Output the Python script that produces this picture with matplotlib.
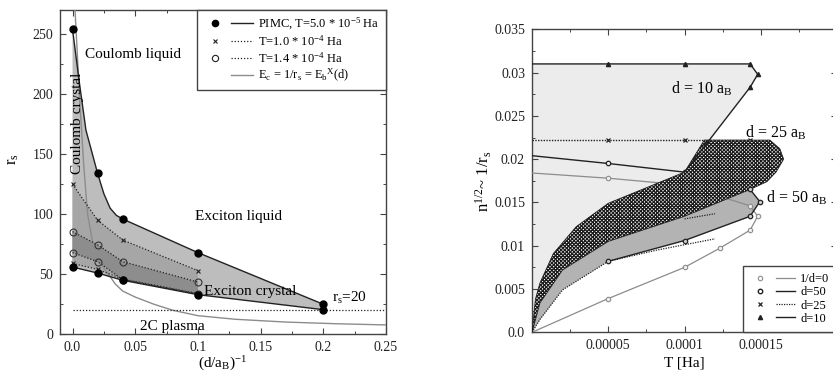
import numpy as np
import matplotlib
matplotlib.use("Agg")
import matplotlib.pyplot as plt
from matplotlib.lines import Line2D
from matplotlib.legend_handler import HandlerTuple
from matplotlib.ticker import FixedLocator, FixedFormatter, MultipleLocator

plt.rcParams["font.family"] = ["Liberation Serif", "DejaVu Serif"]
plt.rcParams["mathtext.fontset"] = "custom"
plt.rcParams["mathtext.rm"] = "Liberation Serif"
plt.rcParams["mathtext.it"] = "Liberation Serif:italic"
plt.rcParams["mathtext.default"] = "regular"
plt.rcParams["hatch.linewidth"] = 0.9

# ---------------- left panel: r_s versus inverse layer separation ----------------
inv_d = [0.0, 0.02, 0.04, 0.1, 0.2]
pimc_upper = [254, 134, 96, 68, 25]
pimc_lower = [56, 51, 45, 33, 20.5]
# shape of the upper PIMC boundary between the simulation points
pimc_curve_x = [0.0, 0.005, 0.0107, 0.02, 0.025, 0.03, 0.035, 0.04, 0.1, 0.2]
pimc_curve_y = [254, 213, 170, 134, 117, 105, 99, 96, 68, 25]

t1_x = [0.0, 0.02, 0.04, 0.1]
t1_upper = [125, 95, 78.5, 53]
t1_lower = [59, 54, 46, 34]

t2_x = [0.0, 0.02, 0.04, 0.1]
t2_upper = [85.5, 74.5, 60.5, 43.5]
t2_lower = [68, 60.5, 45.5, 33.5]

ec_x = [0.002, 0.006, 0.009, 0.012, 0.016, 0.02, 0.025, 0.03, 0.034, 0.04,
        0.05, 0.065, 0.08, 0.1, 0.13, 0.17, 0.21, 0.25]
ec_y = [270, 190, 140, 100, 77, 64, 55, 48, 42, 36,
        31, 25, 20, 15.5, 12.5, 10.2, 8.8, 7.8]

rs_line = 20

left_xticks = [0.0, 0.05, 0.1, 0.15, 0.2, 0.25]
left_xticklabels = ["0.0", "0.05", "0.1", "0.15", "0.2", "0.25"]
left_yticks = [0, 50, 100, 150, 200, 250]

# ---------------- right panel: density versus temperature ----------------
d10_top_T = [0.0, 5e-5, 1e-4, 1.43e-4, 1.48e-4, 1.43e-4, 1e-4]
d10_top_n = [0.031, 0.031, 0.031, 0.031, 0.0298, 0.0283, 0.0185]
d10_low_T = [1e-4, 5e-5, 2.9e-5, 1.4e-5, 5.2e-6, 2.2e-6, 0.0]
d10_low_n = [0.0185, 0.0149, 0.0122, 0.0091, 0.0057, 0.0038, 0.0]

d25_top_T = [0.0, 5e-5, 1e-4, 1.43e-4]
d25_top_n = [0.0222, 0.0222, 0.0222, 0.0222]
# outer edge of the d = 25 region to the right of the d = 10 boundary
d25_edge_T = [1.13e-4, 1.56e-4, 1.625e-4, 1.65e-4, 1.6e-4, 1.54e-4, 1.43e-4,
              1e-4, 5e-5, 2e-5, 5.2e-6, 0.0]
d25_edge_n = [0.0222, 0.0222, 0.0212, 0.0200, 0.0185, 0.0174, 0.0165,
              0.0134, 0.0105, 0.0072, 0.0034, 0.0]
d25_low_T = [0.0, 5.2e-6, 2e-5, 5e-5, 8.2e-5, 1.2e-4]
d25_low_n = [0.0, 0.0015, 0.0049, 0.0082, 0.0095, 0.0108]
d25_mid_T = [1.0e-4, 1.2e-4]
d25_mid_n = [0.0131, 0.0137]

d50_top_T = [0.0, 5e-5, 1e-4, 1.43e-4]
d50_top_n = [0.0204, 0.0195, 0.0185, 0.0165]
d50_low_T = [0.0, 5.2e-6, 2e-5, 5e-5, 1e-4, 1.43e-4, 1.494e-4, 1.43e-4]
d50_low_n = [0.0, 0.0014, 0.0049, 0.0082, 0.0106, 0.0134, 0.0151, 0.0165]

d0_T = [0.0, 5e-5, 1e-4, 1.43e-4, 1.48e-4, 1.43e-4, 1.23e-4, 1e-4, 5e-5, 0.0]
d0_n = [0.0184, 0.0178, 0.0170, 0.0146, 0.0134, 0.0118, 0.0097, 0.0075, 0.0039, 0.0]

right_xticks = [5e-5, 1e-4, 1.5e-4]
right_xticklabels = ["0.00005", "0.0001", "0.00015"]
right_yticks = [0.0, 0.005, 0.01, 0.015, 0.02, 0.025, 0.03, 0.035]
right_yticklabels = ["0.0", "0.005", "0.01", "0.015", "0.02", "0.025", "0.03", "0.035"]

# colours
LIGHT = "#bdbdbd"
MID = "#a6a6a6"
DARK = "#8d8d8d"
LINE = "#222222"
GREY_LINE = "#8c8c8c"
SPINE = "#444444"

fig = plt.figure(figsize=(8.33, 3.78), dpi=100)
axL = fig.add_axes([0.072, 0.1156, 0.3914, 0.858])
axR = fig.add_axes([0.6387, 0.1209, 0.3661, 0.8016])


def style_axes(ax):
    for s in ax.spines.values():
        s.set_color(SPINE)
        s.set_linewidth(1.0)
    ax.tick_params(which="both", direction="in", top=True, right=True,
                   colors=SPINE, labelcolor="#222222", labelsize=10)
    ax.tick_params(which="major", length=4.5, width=0.8, pad=5)
    ax.tick_params(which="minor", length=2.5, width=0.7)


# ----- left panel -----
ax = axL
ax.fill(pimc_curve_x + inv_d[::-1], pimc_curve_y + pimc_lower[::-1],
        color=LIGHT, lw=0, zorder=1)
ax.fill(t1_x + t1_x[::-1], t1_upper + t1_lower[::-1], color=MID, lw=0, zorder=2)
ax.fill(t2_x + t2_x[::-1], t2_upper + t2_lower[::-1], color=DARK, lw=0, zorder=3)

ax.plot(pimc_curve_x, pimc_curve_y, color=LINE, lw=1.0, zorder=5)
ax.plot(inv_d, pimc_lower, color=LINE, lw=1.0, zorder=5)
ax.plot(inv_d, pimc_upper, ls="none", marker="o", ms=5, color="black", zorder=6)
ax.plot(inv_d, pimc_lower, ls="none", marker="o", ms=5, color="black", zorder=6)

for xs, ys in [(t1_x, t1_upper), (t1_x, t1_lower)]:
    ax.plot(xs, ys, color=LINE, lw=0.9, ls=(0, (1, 1.5)), marker="x", ms=3.5,
            mew=0.8, zorder=5)
for xs, ys in [(t2_x, t2_upper), (t2_x, t2_lower)]:
    ax.plot(xs, ys, color=LINE, lw=0.9, ls=(0, (1, 1.5)), marker="o", ms=5,
            mfc="none", mew=0.8, mec="#333333", zorder=5)

ax.plot(ec_x, ec_y, color=GREY_LINE, lw=1.0, zorder=4)
ax.plot([0.0, 0.25], [rs_line, rs_line], color=LINE, lw=0.9,
        ls=(0, (1, 1.5)), zorder=4)

ax.set_xlim(-0.01, 0.25)
ax.set_ylim(0, 270)
ax.xaxis.set_major_locator(FixedLocator(left_xticks))
ax.xaxis.set_major_formatter(FixedFormatter(left_xticklabels))
ax.xaxis.set_minor_locator(MultipleLocator(0.025))
ax.yaxis.set_major_locator(FixedLocator(left_yticks))
ax.yaxis.set_minor_locator(MultipleLocator(25))
style_axes(ax)

ax.set_xlabel("(d/a$_B$)$^{-1}$", fontsize=11)
ax.xaxis.set_label_coords(0.5, -0.062)
ax.set_ylabel("r$_s$", fontsize=12, rotation=90)
ax.yaxis.set_label_coords(-0.12, 0.54)

ax.text(0.0102, 233, "Coulomb liquid", fontsize=11, va="center", ha="left", zorder=7)
ax.text(0.0043, 176, "Coulomb crystal", fontsize=11, va="center", ha="center",
        rotation=90, zorder=7)
ax.text(0.0976, 98, "Exciton liquid", fontsize=11, va="center", ha="left", zorder=7)
ax.text(0.1046, 36, "Exciton crystal", fontsize=11, va="center", ha="left", zorder=7)
ax.text(0.207, 30, "r$_s$=20", fontsize=11, va="center", ha="left", zorder=7)
ax.text(0.054, 6.5, "2C plasma", fontsize=11, va="center", ha="left", zorder=7)

empty = Line2D([], [], ls="none")
hL = [
    (Line2D([], [], ls="none", marker="o", ms=4.5, color="black"),
     Line2D([], [], color=LINE, lw=1.0)),
    (Line2D([], [], ls="none", marker="x", ms=3.5, mew=0.8, color=LINE),
     Line2D([], [], color=LINE, lw=0.9, ls=(0, (1, 1.5)))),
    (Line2D([], [], ls="none", marker="o", ms=4.5, mfc="none", mew=0.8, color=LINE),
     Line2D([], [], color=LINE, lw=0.9, ls=(0, (1, 1.5)))),
    (empty, Line2D([], [], color=GREY_LINE, lw=1.0)),
]
labL = ["PIMC, T=5.0 * 10$^{-5}$ Ha", "T=1.0 * 10$^{-4}$ Ha",
        "T=1.4 * 10$^{-4}$ Ha", "E$_c$ = 1/r$_s$ = E$_b$$^X$(d)"]
legL = ax.legend(hL, labL, loc="upper right", borderaxespad=0, fontsize=9,
                 handler_map={tuple: HandlerTuple(ndivide=None, pad=0.4)},
                 handlelength=4.0, handletextpad=0.4, labelspacing=0.15,
                 borderpad=0.5, fancybox=False, framealpha=1, edgecolor=SPINE)
legL.get_frame().set_linewidth(1.0)
legL.set_zorder(10)

# ----- right panel -----
ax = axR
ax.fill(d10_top_T + d10_low_T, d10_top_n + d10_low_n, color="#ececec", lw=0, zorder=1)
gray_T = d50_low_T + [1e-4, 5e-5, 2e-5, 5.2e-6]
gray_n = d50_low_n + [0.0134, 0.0105, 0.0072, 0.0034]
ax.fill(gray_T, gray_n, color="#b3b3b3", lw=0, zorder=2)

ax.plot(d0_T, d0_n, color=GREY_LINE, lw=0.9, zorder=3)
ax.plot(d0_T[1:-1], d0_n[1:-1], ls="none", marker="o", ms=3.2, mfc="#f0f0f0",
        mec=GREY_LINE, mew=0.8, zorder=3)
ax.plot(d50_top_T, d50_top_n, color=LINE, lw=1.0, zorder=3)
ax.plot(d50_top_T[1:3], d50_top_n[1:3], ls="none", marker="o", ms=3.2,
        mfc="#f0f0f0", mec=LINE, mew=0.9, zorder=3)
ax.plot(d25_top_T, d25_top_n, color=LINE, lw=1.0, ls=(0, (1, 1)), zorder=3)
ax.plot(d25_top_T[1:], d25_top_n[1:], ls="none", marker="x", ms=2.5, mew=0.9,
        color=LINE, zorder=3)

# d = 25 region: bounded on the upper left by the d = 10 boundary
hatch_T = d10_low_T[::-1] + d25_edge_T
hatch_n = d10_low_n[::-1] + d25_edge_n
ax.fill(hatch_T, hatch_n, facecolor="white", edgecolor="#1a1a1a",
        hatch="x" * 9, lw=0.6, zorder=4)

ax.plot(d25_low_T, d25_low_n, color=LINE, lw=0.9, ls=(0, (1, 1)), zorder=5)
ax.plot(d25_mid_T, d25_mid_n, color=LINE, lw=0.9, ls=(0, (1, 1)), zorder=5)
ax.plot(d50_low_T[3:], d50_low_n[3:], color=LINE, lw=1.0, zorder=5)
ax.plot(d50_low_T[3:], d50_low_n[3:], ls="none", marker="o", ms=3.2,
        mfc="#cccccc", mec=LINE, mew=0.9, zorder=6)
ax.plot(d10_top_T, d10_top_n, color=LINE, lw=1.0, zorder=5)
ax.plot(d10_top_T[1:-1], d10_top_n[1:-1], ls="none", marker="^", ms=3,
        color=LINE, zorder=6)

ax.set_xlim(0, 0.0002)
ax.set_ylim(0, 0.035)
ax.xaxis.set_major_locator(FixedLocator(right_xticks))
ax.xaxis.set_major_formatter(FixedFormatter(right_xticklabels))
ax.xaxis.set_minor_locator(MultipleLocator(2.5e-5))
ax.yaxis.set_major_locator(FixedLocator(right_yticks))
ax.yaxis.set_major_formatter(FixedFormatter(right_yticklabels))
ax.yaxis.set_minor_locator(MultipleLocator(0.0025))
style_axes(ax)

ax.set_xlabel("T [Ha]", fontsize=11)
ax.xaxis.set_label_coords(0.5, -0.08)
ax.set_ylabel("n$^{1/2}$~ 1/r$_s$", fontsize=12)
ax.yaxis.set_label_coords(-0.125, 0.5)

ax.text(9.12e-5, 0.0281, "d = 10 a$_B$", fontsize=11.5, va="center", ha="left", zorder=7)
ax.text(1.398e-4, 0.0231, "d = 25 a$_B$", fontsize=11.5, va="center", ha="left", zorder=7)
ax.text(1.533e-4, 0.0155, "d = 50 a$_B$", fontsize=11.5, va="center", ha="left", zorder=7)

hR = [
    (Line2D([], [], ls="none", marker="o", ms=3.2, mfc="white", mec=GREY_LINE, mew=0.8),
     Line2D([], [], color=GREY_LINE, lw=0.9)),
    (Line2D([], [], ls="none", marker="o", ms=3.2, mfc="white", mec=LINE, mew=1.0),
     Line2D([], [], color=LINE, lw=1.0)),
    (Line2D([], [], ls="none", marker="x", ms=2.5, mew=0.9, color=LINE),
     Line2D([], [], color=LINE, lw=0.9, ls=(0, (1, 1)))),
    (Line2D([], [], ls="none", marker="^", ms=3, color=LINE),
     Line2D([], [], color=LINE, lw=1.0)),
]
labR = ["1/d=0", "d=50", "d=25", "d=10"]
legR = ax.legend(hR, labR, loc="lower right", borderaxespad=0, fontsize=9,
                 handler_map={tuple: HandlerTuple(ndivide=None, pad=0.6)},
                 handlelength=3.6, handletextpad=0.4, labelspacing=0.1,
                 borderpad=0.6, fancybox=False, framealpha=1, edgecolor=SPINE)
legR.get_frame().set_linewidth(1.0)
legR.set_zorder(10)

fig.savefig("out.png", dpi=100)
